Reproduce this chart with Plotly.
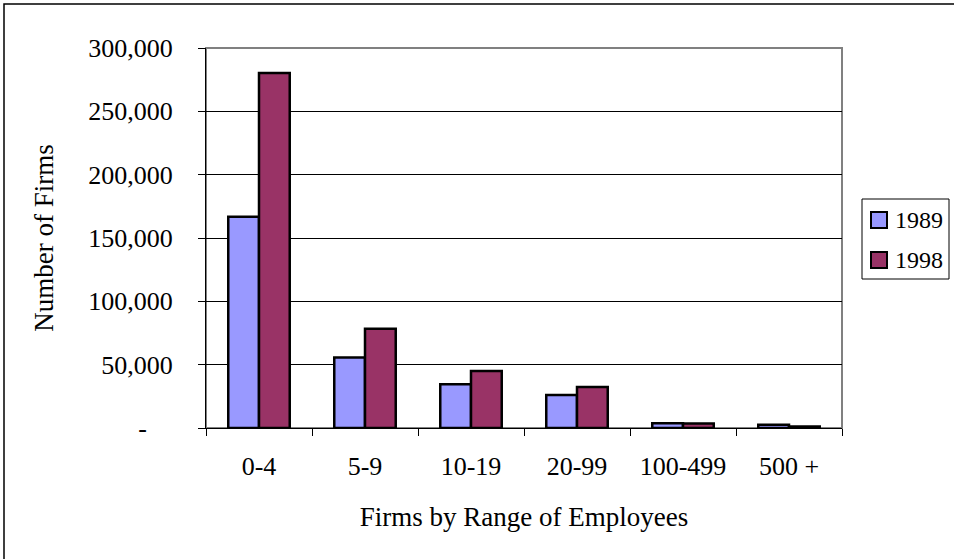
import plotly.graph_objects as go

categories = ["0-4", "5-9", "10-19", "20-99", "100-499", "500 +"]
firms_1989 = [166800, 55700, 34500, 26100, 3700, 2500]
firms_1998 = [280200, 78300, 45000, 32400, 3600, 1200]
series_names = ["1989", "1998"]
series_colors = ["#9999FF", "#993366"]
y_tickvals = [0, 50000, 100000, 150000, 200000, 250000, 300000]
y_ticktext = ["-" + "\u00a0" * 4, "50,000", "100,000", "150,000", "200,000", "250,000", "300,000"]

W, H = 954, 559
L, R, T, B = 206, 842, 48, 428

FONT = "Liberation Serif, Times New Roman, serif"
FS = 26
FS_TITLE = 27
FS_LEG = 24

fig = go.Figure()
for name, vals, col in zip(series_names, [firms_1989, firms_1998], series_colors):
    fig.add_trace(go.Bar(x=categories, y=vals, name=name,
                         marker=dict(color=col, line=dict(color="black", width=2.5)),
                         showlegend=False))


def px_x(p):
    return (p - L) / (R - L)


def px_y(p):
    return (B - p) / (B - T)


# plot-area border (gray)
fig.add_shape(type="rect", xref="paper", yref="paper", x0=0, x1=1, y0=0, y1=1,
              line=dict(color="#808080", width=2), layer="below")
# outer chart border
fig.add_shape(type="rect", xref="paper", yref="paper",
              x0=px_x(4), x1=px_x(970), y0=px_y(575), y1=px_y(4),
              line=dict(color="black", width=1.5), layer="below")

# legend box (drawn manually to match the compact Excel legend)
fig.add_shape(type="rect", xref="paper", yref="paper",
              x0=px_x(862), x1=px_x(949), y0=px_y(279), y1=px_y(199),
              line=dict(color="black", width=1), fillcolor="white")
for i, (name, col) in enumerate(zip(series_names, series_colors)):
    cy = 220 + 40 * i
    fig.add_shape(type="rect", xref="paper", yref="paper",
                  x0=px_x(871), x1=px_x(887), y0=px_y(cy + 8), y1=px_y(cy - 8),
                  line=dict(color="black", width=2), fillcolor=col)
    fig.add_annotation(xref="paper", yref="paper", x=px_x(893), y=px_y(cy),
                       xanchor="left", yanchor="middle", text=name, showarrow=False,
                       font=dict(family=FONT, size=FS_LEG, color="black"))

fig.update_layout(
    width=W, height=H,
    margin=dict(l=L, r=W - R, t=T, b=H - B, autoexpand=False),
    paper_bgcolor="white", plot_bgcolor="white",
    font=dict(family=FONT, size=FS, color="black"),
    barmode="group", bargap=0.42, bargroupgap=0,
    showlegend=False,
    xaxis=dict(showline=True, linecolor="black", linewidth=1,
               ticks="outside", ticklen=7, tickcolor="black", tickson="boundaries",
               ticklabelstandoff=15, showgrid=False, automargin=False,
               title=dict(text="Firms by Range of Employees", standoff=26,
                          font=dict(family=FONT, size=FS_TITLE))),
    yaxis=dict(range=[0, 300000], tickvals=y_tickvals, ticktext=y_ticktext,
               showline=True, linecolor="black", linewidth=1,
               ticks="outside", ticklen=7, tickcolor="black",
               ticklabelstandoff=20, automargin=False,
               showgrid=True, gridcolor="black", gridwidth=1, zeroline=False,
               title=dict(text="Number of Firms", standoff=26,
                          font=dict(family=FONT, size=FS_TITLE))),
)

fig.write_html(
    "out.html",
    config={"displayModeBar": False},
    post_script="document.body.style.margin='0';document.documentElement.style.overflow='hidden';",
)
